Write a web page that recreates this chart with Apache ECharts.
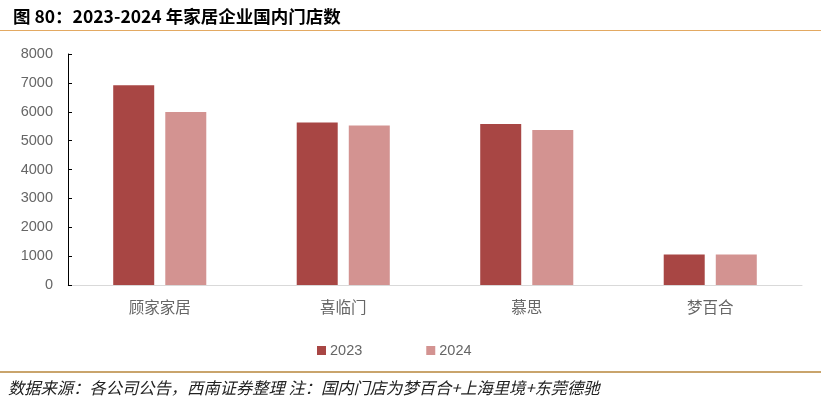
<!DOCTYPE html>
<html>
<head>
<meta charset="utf-8">
<script src="https://cdn.jsdelivr.net/npm/echarts@6/dist/echarts.min.js"></script>
<style>
html,body{margin:0;padding:0;background:#fff;}
#chart{width:821px;height:404px;}
</style>
</head>
<body>
<div id="chart"></div>
<script>
var categories = ['顾家家居', '喜临门', '慕思', '梦百合'];
var seriesNames = ['2023', '2024'];
var values2023 = [6920, 5630, 5580, 1060];
var values2024 = [5990, 5520, 5370, 1060];
var yTicks = [0, 1000, 2000, 3000, 4000, 5000, 6000, 7000, 8000];

var chart = echarts.init(document.getElementById('chart'));
var cjk = '"Noto Sans CJK SC", "Noto Sans", sans-serif';
chart.setOption({
  animation: false,
  backgroundColor: '#ffffff',
  title: {
    text: '图 80：2023-2024 年家居企业国内门店数',
    left: 8, top: 3,
    textStyle: {fontFamily: cjk, fontSize: 17.5, fontWeight: 'bold', color: '#000'}
  },
  graphic: [
    {type: 'rect', shape: {x: 0, y: 30, width: 821, height: 1}, style: {fill: '#E3A962'}, silent: true},
    {type: 'rect', shape: {x: 0, y: 371, width: 821, height: 2}, style: {fill: '#C9A46C'}, silent: true},
    {type: 'text', left: 8, top: 380, style: {text: '数据来源：各公司公告，西南证券整理 注：国内门店为梦百合+上海里境+东莞德驰', font: 'italic 16.3px "Noto Sans CJK SC", sans-serif', fill: '#222'}}
  ],
  legend: {
    data: seriesNames,
    left: 312, top: 338,
    itemWidth: 9, itemHeight: 9, itemGap: 64,
    icon: 'rect',
    textStyle: {fontFamily: 'Liberation Sans, Arial, sans-serif', fontSize: 14.5, color: '#666', padding: [0,0,0,-1]}
  },
  grid: {left: 68, right: 19, top: 54, bottom: 119, containLabel: false},
  xAxis: {
    type: 'category',
    data: categories,
    axisLine: {lineStyle: {color: '#D9D9D9', width: 1}},
    axisTick: {show: false},
    axisLabel: {fontFamily: cjk, fontSize: 15.5, color: '#666', margin: 14}
  },
  yAxis: {
    type: 'value',
    min: yTicks[0], max: yTicks[yTicks.length - 1], interval: 1000,
    axisLine: {show: true, lineStyle: {color: '#000', width: 1}},
    axisTick: {show: true, inside: true, length: 4, lineStyle: {color: '#000'}},
    splitLine: {show: false},
    axisLabel: {fontFamily: 'Liberation Sans, Arial, sans-serif', fontSize: 14.5, color: '#666', margin: 15, formatter: function (v) { return String(v); }}
  },
  series: [
    {name: seriesNames[0], type: 'bar', data: values2023, barWidth: 41, barGap: '27%', itemStyle: {color: '#A84644'}},
    {name: seriesNames[1], type: 'bar', data: values2024, barWidth: 41, barGap: '27%', itemStyle: {color: '#D39391'}}
  ]
});
</script>
</body>
</html>
